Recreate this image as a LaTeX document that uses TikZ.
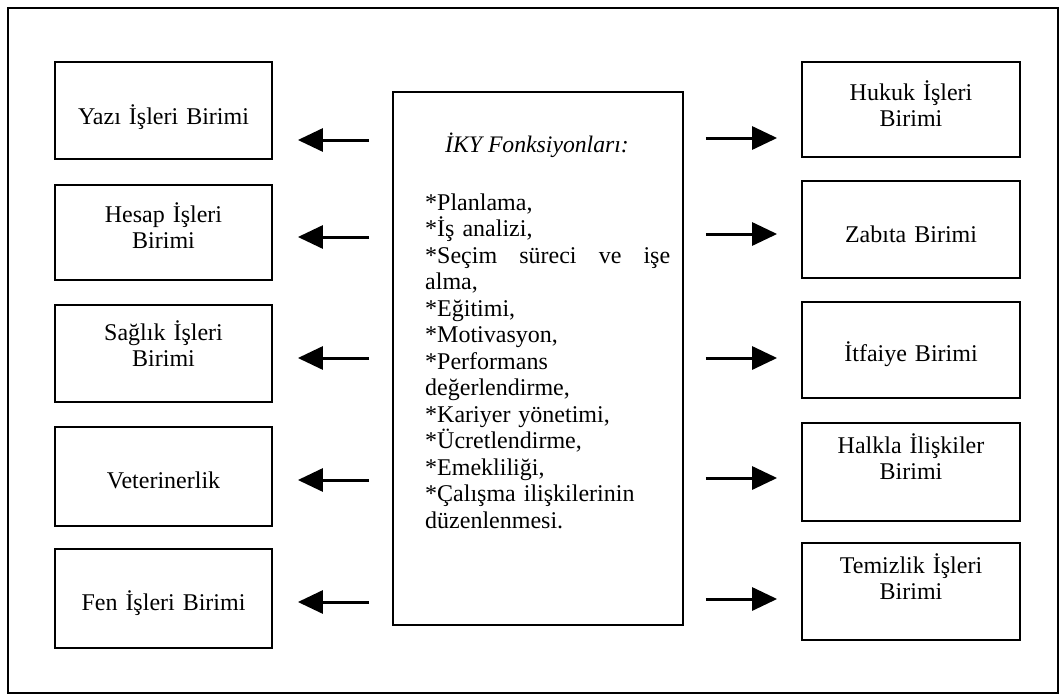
\documentclass[tikz,border=0pt]{standalone}
\usepackage{fontspec}
\setmainfont{Liberation Serif}
\usetikzlibrary{arrows.meta,calc}
\begin{document}
\begin{tikzpicture}[x=1pt,y=-1pt,
  box/.style={draw,line width=1.8pt,inner sep=0pt,minimum width=217pt,minimum height=97pt},
  lbl/.style={anchor=base,text width=215pt,align=center,inner sep=0pt,
    font=\fontsize{24}{26}\selectfont},
  arr/.style={line width=3pt,-{Triangle[length=25pt,width=23pt]}},
  frame/.style={draw,line width=1.8pt}]
\path[use as bounding box] (0,0) rectangle (1064,698);
\draw[frame] (8,8) rectangle (1058,693);
% center box
\node[box,minimum width=290pt,minimum height=533pt] (c) at (538,358.5) {};
\node[anchor=base west,inner sep=0pt,font=\fontsize{23.7}{26.5}\selectfont\itshape] (ct) at (445,152) {İKY Fonksiyonları:};
\node[anchor=base west,inner sep=0pt,text width=245pt,align=left,font=\fontsize{24}{26.5}\selectfont] (cl) at (425,210)
{*Planlama,\\{}
*İş analizi,\\{}
\makebox[245pt][l]{*Seçim\hfill süreci\hfill ve\hfill işe}\\{}
alma,\\{}
*Eğitimi,\\{}
*Motivasyon,\\{}
*Performans\\{}
değerlendirme,\\{}
*Kariyer yönetimi,\\{}
*Ücretlendirme,\\{}
*Emekliliği,\\{}
*Çalışma ilişkilerinin\\{}
düzenlenmesi.};
% left boxes
\node[box] (yazi) at (163.5,110.5) {};
\node[box,minimum height=95pt] (hesap) at (163.5,232.5) {};
\node[box] (saglik) at (163.5,353.5) {};
\node[box,minimum height=99pt] (vet) at (163.5,476.5) {};
\node[box,minimum height=99pt] (fen) at (163.5,598.5) {};
\node[lbl] (yazi-t) at ([yshift=-63pt]yazi.north) {Yazı İşleri Birimi};
\node[lbl] (hesap-t) at ([yshift=-38pt]hesap.north) {Hesap İşleri\\Birimi};
\node[lbl] (saglik-t) at ([yshift=-36pt]saglik.north) {Sağlık İşleri\\Birimi};
\node[lbl] (vet-t) at ([yshift=-62pt]vet.north) {Veterinerlik};
\node[lbl] (fen-t) at ([yshift=-62pt]fen.north) {Fen İşleri Birimi};
% right boxes
\node[box,minimum width=218pt,minimum height=95pt] (hukuk) at (911,109.5) {};
\node[box,minimum width=218pt] (zabita) at (911,229.5) {};
\node[box,minimum width=218pt,minimum height=96pt] (itfaiye) at (911,350) {};
\node[box,minimum width=218pt,minimum height=98pt] (halkla) at (911,472) {};
\node[box,minimum width=218pt,minimum height=97pt] (temizlik) at (911,591.5) {};
\node[lbl] (hukuk-t) at ([yshift=-39pt]hukuk.north) {Hukuk İşleri\\Birimi};
\node[lbl] (zabita-t) at ([yshift=-62pt]zabita.north) {Zabıta Birimi};
\node[lbl] (itfaiye-t) at ([yshift=-60pt]itfaiye.north) {İtfaiye Birimi};
\node[lbl] (halkla-t) at ([yshift=-31pt]halkla.north) {Halkla İlişkiler\\Birimi};
\node[lbl] (temizlik-t) at ([yshift=-31pt]temizlik.north) {Temizlik İşleri\\Birimi};
% arrows left
\draw[arr] ($(c.west |- yazi.east)+(-23,29.5)$) -- ($(yazi.east)+(25,29.5)$);
\draw[arr] ($(c.west |- hesap.east)+(-23,4.5)$) -- ($(hesap.east)+(25,4.5)$);
\draw[arr] ($(c.west |- saglik.east)+(-23,4.5)$) -- ($(saglik.east)+(25,4.5)$);
\draw[arr] ($(c.west |- vet.east)+(-23,3.5)$) -- ($(vet.east)+(25,3.5)$);
\draw[arr] ($(c.west |- fen.east)+(-23,3.5)$) -- ($(fen.east)+(25,3.5)$);
% arrows right
\draw[arr] ($(c.east |- hukuk.west)+(22,28.5)$) -- ($(hukuk.west)+(-24,28.5)$);
\draw[arr] ($(c.east |- zabita.west)+(22,4.5)$) -- ($(zabita.west)+(-24,4.5)$);
\draw[arr] ($(c.east |- itfaiye.west)+(22,8)$) -- ($(itfaiye.west)+(-24,8)$);
\draw[arr] ($(c.east |- halkla.west)+(22,6)$) -- ($(halkla.west)+(-24,6)$);
\draw[arr] ($(c.east |- temizlik.west)+(22,7.5)$) -- ($(temizlik.west)+(-24,7.5)$);
\end{tikzpicture}
\end{document}
